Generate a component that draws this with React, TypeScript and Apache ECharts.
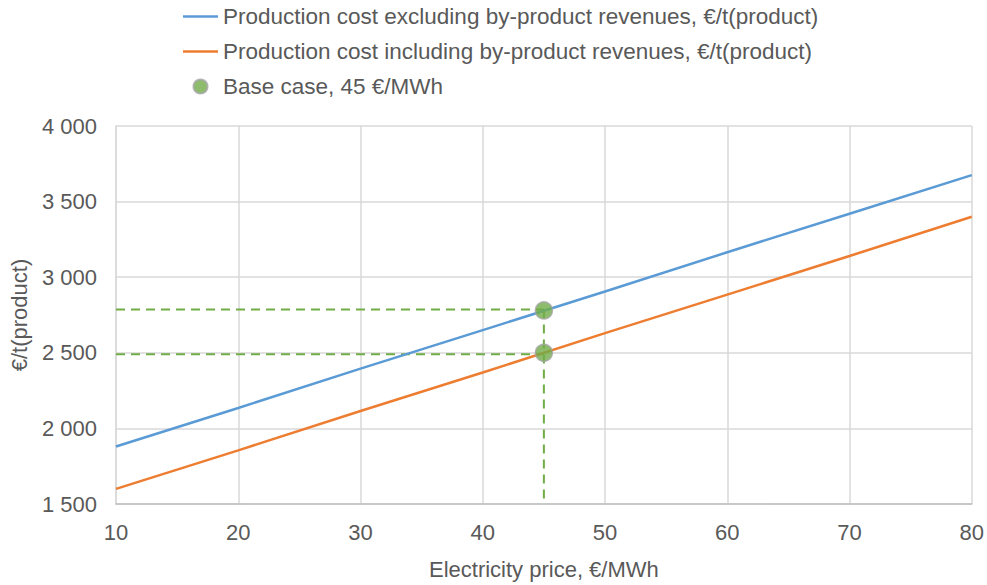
import React, { useEffect, useRef } from "react";
import * as echarts from "echarts";

const prices = [10, 20, 30, 40, 50, 60, 70, 80];
const costExcl = [1880, 2135, 2395, 2650, 2905, 3165, 3420, 3675];
const costIncl = [1600, 1855, 2115, 2370, 2630, 2885, 3140, 3400];
const basePrice = 45;
const baseExcl = 2780;
const baseIncl = 2500;
const guideExclLevel = 2786;
const guideInclLevel = 2490;

const nameExcl = "Production cost excluding by-product revenues, €/t(product)";
const nameIncl = "Production cost including by-product revenues, €/t(product)";
const nameBase = "Base case, 45 €/MWh";

const FONT = "'Liberation Sans', Arial, sans-serif";
const TEXT = "#595959";
const GREEN = "#70AD47";
const LINE_ICON = "path://M0,0 L35,0 L35,2.5 L0,2.5 Z";

export default function App() {
  const ref = useRef<HTMLDivElement>(null);
  useEffect(() => {
    if (!ref.current) return;
    const chart = echarts.init(ref.current, null, { renderer: "svg" });
    const fmt = (v: number) => String(v).replace(/\B(?=(\d{3})+(?!\d))/g, " ");
    const guide = {
      type: "line",
      symbol: "none",
      silent: true,
      lineStyle: { color: GREEN, width: 2, type: [9, 6] },
      z: 3,
    };
    chart.setOption({
      animation: false,
      backgroundColor: "#ffffff",
      textStyle: { fontFamily: FONT },
      grid: { left: 116, right: 14, top: 126, bottom: 75 },
      legend: {
        orient: "vertical",
        left: 178,
        top: 0,
        itemWidth: 35,
        itemHeight: 14,
        itemGap: 12,
        textStyle: { color: TEXT, fontSize: 22.5, fontFamily: FONT, lineHeight: 23 },
        data: [
          { name: nameExcl, icon: LINE_ICON },
          { name: nameIncl, icon: LINE_ICON },
          { name: nameBase, icon: "circle" },
        ],
      },
      xAxis: {
        type: "value",
        min: 10,
        max: 80,
        interval: 10,
        name: "Electricity price, €/MWh",
        nameLocation: "middle",
        nameGap: 54,
        nameTextStyle: { color: TEXT, fontSize: 22, fontFamily: FONT },
        axisLine: { show: true, lineStyle: { color: "#bfbfbf", width: 1.5 } },
        axisTick: { show: false },
        axisLabel: { color: TEXT, fontSize: 22, fontFamily: FONT, margin: 17 },
        splitLine: { show: true, lineStyle: { color: "#d9d9d9", width: 1.5 } },
      },
      yAxis: {
        type: "value",
        min: 1500,
        max: 4000,
        interval: 500,
        name: "€/t(product)",
        nameLocation: "middle",
        nameGap: 86,
        nameTextStyle: { color: TEXT, fontSize: 22, fontFamily: FONT },
        axisLine: { show: true, lineStyle: { color: "#d9d9d9", width: 1.5 } },
        axisTick: { show: false },
        axisLabel: { color: TEXT, fontSize: 22, fontFamily: FONT, margin: 19, formatter: fmt },
        splitLine: { show: true, lineStyle: { color: "#d9d9d9", width: 1.5 } },
      },
      series: [
        {
          ...guide,
          name: "guide-excl",
          data: [[prices[0], guideExclLevel], [basePrice, guideExclLevel]],
        },
        {
          ...guide,
          name: "guide-incl",
          data: [[prices[0], guideInclLevel], [basePrice, guideInclLevel]],
        },
        {
          ...guide,
          name: "guide-vert",
          data: [[basePrice, guideExclLevel], [basePrice, 1500]],
        },
        {
          name: nameExcl,
          type: "line",
          symbol: "none",
          color: "#5B9BD5",
          lineStyle: { color: "#5B9BD5", width: 2.5 },
          data: prices.map((p, i) => [p, costExcl[i]]),
          z: 4,
        },
        {
          name: nameIncl,
          type: "line",
          symbol: "none",
          color: "#ED7D31",
          lineStyle: { color: "#ED7D31", width: 2.5 },
          data: prices.map((p, i) => [p, costIncl[i]]),
          z: 4,
        },
        {
          name: nameBase,
          type: "scatter",
          symbol: "circle",
          symbolSize: 17,
          color: GREEN,
          itemStyle: { color: GREEN, borderColor: "#a5a5a5", borderWidth: 1.5 },
          data: [[basePrice, baseExcl], [basePrice, baseIncl]],
          z: 5,
        },
      ],
    });
    return () => chart.dispose();
  }, []);
  return (
    <div
      ref={ref}
      style={{ position: "fixed", left: 0, top: 0, width: 987, height: 585, background: "#fff" }}
    />
  );
}
